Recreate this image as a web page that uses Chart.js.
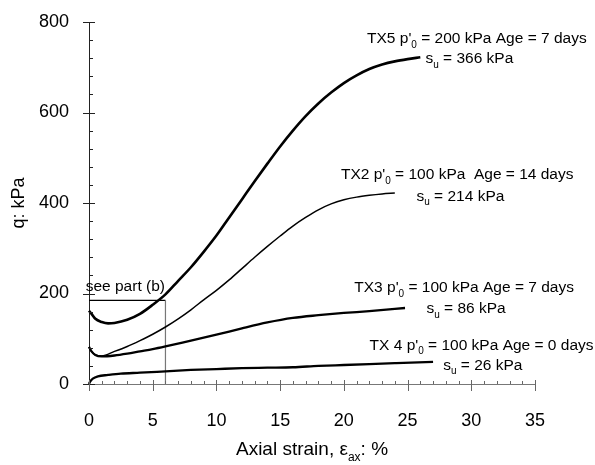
<!DOCTYPE html>
<html>
<head>
<meta charset="utf-8">
<script src="https://cdn.jsdelivr.net/npm/chart.js@4/dist/chart.umd.min.js"></script>
<style>
  html, body { margin: 0; padding: 0; background: #fff; }
  #wrap { width: 595px; height: 465px; }
</style>
</head>
<body>
<div id="wrap"><canvas id="chart" width="595" height="465"></canvas></div>
<script>
// axial strain (%) and deviator stress q (kPa)
const strainTX5 = [0, 0.2, 0.5, 1, 1.5, 2, 3, 4, 5, 6, 7, 8, 9, 10, 11, 12, 13, 14, 15, 16, 17, 18, 19, 20, 21, 22, 23, 24, 25, 26];
const qTX5 = [162, 155, 144, 137, 134, 135, 142, 155, 175, 198, 228, 258, 292, 328, 368, 408, 448, 487, 525, 560, 592, 620, 644, 665, 682, 696, 706, 713, 718, 722];

const strainTX2 = [0, 0.2, 0.5, 1, 2, 3, 4, 5, 6, 7, 8, 9, 10, 11, 12, 13, 14, 15, 16, 17, 18, 19, 20, 21, 22, 23, 24];
const qTX2 = [82, 72, 64, 62, 72, 83, 96, 110, 126, 144, 164, 186, 207, 230, 255, 280, 304, 327, 349, 368, 385, 398, 407, 413, 417, 420, 422];

const strainTX3 = [0, 0.2, 0.5, 1, 2, 3, 4, 5, 6, 8, 10, 12, 14, 16, 18, 20, 22, 24, 24.8];
const qTX3 = [82, 72, 64, 61, 63, 67, 72, 77, 83, 96, 109, 123, 136, 146, 152, 157, 161, 166, 168];

const strainTX4 = [0, 0.1, 0.3, 0.7, 1.5, 2.5, 4, 6, 8, 10, 12, 14, 16, 18, 20, 22, 24, 27];
const qTX4 = [0, 6, 12, 17, 20, 23, 25, 28, 31, 33, 35, 36, 37, 40, 42, 44, 46, 49];

// "see part (b)" window
const boxStrain = [0, 6, 6];
const boxQ = [185, 185, 0];

const xTicks = [0, 5, 10, 15, 20, 25, 30, 35];
const yTicks = [0, 200, 400, 600, 800];

const FONT = "Arial, 'Liberation Sans', Helvetica, sans-serif";

const notes = [
  { text: "TX5 p'_{0} = 200 kPa Age = 7 days", x: 21.82, y: 753 },
  { text: "s_{u} = 366 kPa", x: 26.4, y: 709 },
  { text: "TX2 p'_{0} = 100 kPa  Age = 14 days", x: 19.77, y: 452.6 },
  { text: "s_{u} = 214 kPa", x: 25.7, y: 405 },
  { text: "TX3 p'_{0} = 100 kPa Age = 7 days", x: 20.82, y: 202.9 },
  { text: "s_{u} = 86 kPa", x: 26.48, y: 156.5 },
  { text: "TX 4 p'_{0} = 100 kPa Age = 0 days", x: 22.02, y: 75.8 },
  { text: "s_{u} = 26 kPa", x: 27.8, y: 31.6 },
  { text: "see part (b)", x: -0.26, y: 206 }
];

function pts(xs, ys) {
  return xs.map((x, i) => ({ x, y: ys[i] }));
}

function drawRich(ctx, text, x, y, size, measureOnly) {
  const parts = text.split(/(_\{[^}]*\})/);
  let cx = x;
  parts.forEach(p => {
    if (!p) return;
    if (p.startsWith('_{')) {
      const s = p.slice(2, -1);
      ctx.font = Math.round(size * 0.62) + 'px ' + FONT;
      if (!measureOnly) ctx.fillText(s, cx, y + size * 0.3);
      cx += ctx.measureText(s).width;
    } else {
      ctx.font = size + 'px ' + FONT;
      if (!measureOnly) ctx.fillText(p, cx, y);
      cx += ctx.measureText(p).width;
    }
  });
  return cx - x;
}

const decorPlugin = {
  id: 'decor',
  afterDraw(chart) {
    const ctx = chart.ctx;
    const xs = chart.scales.x;
    const ys = chart.scales.y;
    const x0 = xs.getPixelForValue(0);
    const y0 = ys.getPixelForValue(0);
    ctx.save();

    // y ticks: major cross the axis, minor inside
    ctx.strokeStyle = '#222';
    ctx.lineWidth = 1;
    for (let v = 0; v <= 800; v += 40) {
      const py = Math.round(ys.getPixelForValue(v)) + 0.5;
      const major = v % 200 === 0;
      ctx.beginPath();
      ctx.moveTo(major ? x0 - 6 : x0, py);
      ctx.lineTo(major ? x0 + 6 : x0 + 4, py);
      ctx.stroke();
    }
    // x ticks
    ctx.strokeStyle = '#666';
    for (let v = 0; v <= 35; v += 1) {
      const px = Math.round(xs.getPixelForValue(v)) + 0.5;
      const major = v % 5 === 0;
      ctx.beginPath();
      ctx.moveTo(px, major ? y0 - 4 : y0 - 3);
      ctx.lineTo(px, major ? y0 + 7 : y0);
      ctx.stroke();
    }

    // notes
    ctx.fillStyle = '#000';
    ctx.textBaseline = 'alphabetic';
    ctx.textAlign = 'left';
    notes.forEach(n => {
      drawRich(ctx, n.text, xs.getPixelForValue(n.x), ys.getPixelForValue(n.y), 15.5);
    });

    // x axis title with subscript
    const title = 'Axial strain, \u03b5_{ax}: %';
    const w = drawRich(ctx, title, 0, 0, 19, true);
    const cx = (chart.chartArea.left + chart.chartArea.right) / 2;
    drawRich(ctx, title, cx - w / 2, chart.chartArea.bottom + 71, 19);
    ctx.restore();
  }
};

const lineStyle = {
  borderColor: '#000',
  pointRadius: 0,
  fill: false,
  cubicInterpolationMode: 'monotone',
  clip: 6
};

new Chart(document.getElementById('chart'), {
  type: 'line',
  data: {
    datasets: [
      Object.assign({ label: 'TX5', data: pts(strainTX5, qTX5), borderWidth: 2.6 }, lineStyle),
      Object.assign({ label: 'TX2', data: pts(strainTX2, qTX2), borderWidth: 1.5 }, lineStyle),
      Object.assign({ label: 'TX3', data: pts(strainTX3, qTX3), borderWidth: 2.3 }, lineStyle),
      Object.assign({ label: 'TX4', data: pts(strainTX4, qTX4), borderWidth: 2.3 }, lineStyle),
      {
        label: 'box',
        data: pts(boxStrain, boxQ),
        borderColor: '#000',
        borderWidth: 1.2,
        pointRadius: 0,
        tension: 0,
        order: 10,
        segment: { borderColor: c => (c.p0DataIndex === 0 ? '#000' : '#777') }
      }
    ]
  },
  options: {
    responsive: false,
    animation: false,
    devicePixelRatio: 1,
    layout: { padding: { top: 22, right: 60, bottom: 0, left: 0 } },
    plugins: { legend: { display: false }, tooltip: { enabled: false } },
    scales: {
      x: {
        type: 'linear',
        min: 0,
        max: 35,
        grid: { display: false, drawTicks: false },
        border: { display: true, color: '#777', width: 1 },
        ticks: {
          stepSize: 5,
          padding: 26,
          color: '#000',
          font: { family: FONT, size: 18 },
          callback: v => (xTicks.includes(v) ? String(v) : '')
        },
        afterFit: s => { s.height = 81; s.paddingLeft = 0; s.paddingRight = 0; }
      },
      y: {
        min: 0,
        max: 800,
        grid: { display: false, drawTicks: false },
        border: { display: true, color: '#222', width: 1 },
        ticks: {
          stepSize: 200,
          padding: 20,
          color: '#000',
          font: { family: FONT, size: 18 },
          callback: v => (yTicks.includes(v) ? String(v) : '')
        },
        title: {
          display: true,
          text: 'q: kPa',
          color: '#000',
          font: { family: FONT, size: 18 },
          padding: { top: 8, bottom: 0 }
        },
        afterFit: s => { s.width = 89; s.paddingTop = 0; s.paddingBottom = 0; }
      }
    }
  },
  plugins: [decorPlugin]
});
</script>
</body>
</html>
